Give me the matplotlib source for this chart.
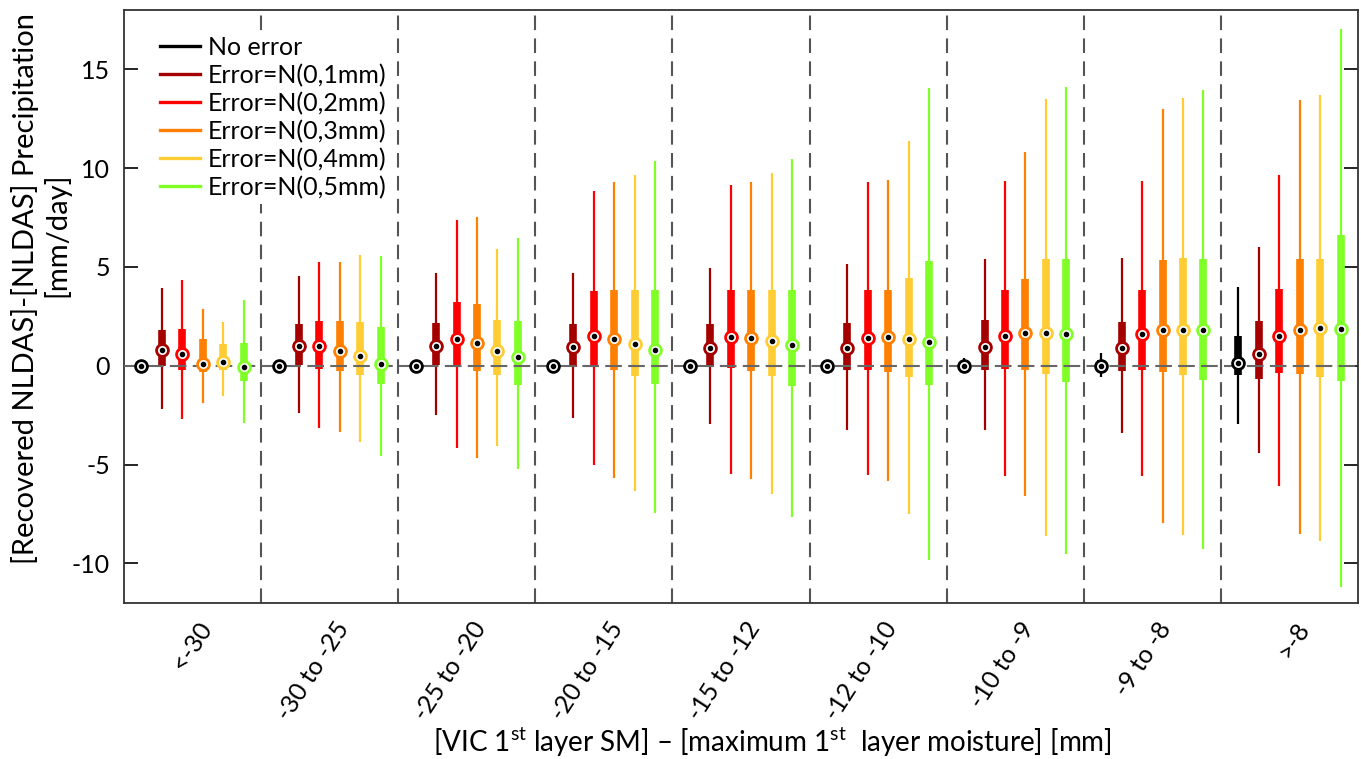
import matplotlib
matplotlib.use("Agg")
from matplotlib import pyplot as plt
from matplotlib.lines import Line2D
import matplotlib.transforms as mtrans

plt.rcParams['font.family'] = ['Lato', 'DejaVu Sans']
plt.rcParams['mathtext.fontset'] = 'custom'
plt.rcParams['mathtext.rm'] = 'Lato'
plt.rcParams['axes.unicode_minus'] = False

bins = ['<-30', '-30 to -25', '-25 to -20', '-20 to -15', '-15 to -12',
        '-12 to -10', '-10 to -9', '-9 to -8', '>-8']

names = ['No error', 'Error=N(0,1mm)', 'Error=N(0,2mm)', 'Error=N(0,3mm)',
         'Error=N(0,4mm)', 'Error=N(0,5mm)']
colors = ['#000000', '#a50000', '#ff0000', '#ff8000', '#ffcc33', '#80ff26']

# (low whisker, q1, median, q3, high whisker) per bin
no_err = [(-0.08, -0.03, 0.0, 0.03, 0.08), (-0.08, -0.03, 0.0, 0.03, 0.08),
          (-0.08, -0.03, 0.0, 0.03, 0.08), (-0.08, -0.03, 0.0, 0.03, 0.08),
          (-0.08, -0.03, 0.0, 0.03, 0.08), (-0.08, -0.03, 0.0, 0.03, 0.08),
          (-0.35, -0.10, 0.0, 0.15, 0.40), (-0.55, -0.15, 0.0, 0.30, 0.67),
          (-2.94, -0.49, 0.13, 1.52, 3.99)]
err1 = [(-2.18, -0.03, 0.79, 1.82, 3.92), (-2.40, 0.05, 0.99, 2.10, 4.54),
        (-2.49, 0.05, 1.02, 2.15, 4.69), (-2.66, -0.05, 0.97, 2.10, 4.72),
        (-2.96, -0.08, 0.92, 2.13, 4.94), (-3.23, -0.22, 0.91, 2.17, 5.16),
        (-3.25, -0.20, 0.95, 2.30, 5.40), (-3.41, -0.25, 0.89, 2.24, 5.45),
        (-4.42, -0.67, 0.61, 2.26, 6.01)]
err2 = [(-2.69, -0.22, 0.62, 1.87, 4.32), (-3.14, -0.17, 1.01, 2.25, 5.24),
        (-4.17, 0.02, 1.36, 3.23, 7.40), (-5.01, 0.03, 1.50, 3.78, 8.82),
        (-5.46, -0.13, 1.46, 3.83, 9.14), (-5.50, -0.22, 1.40, 3.82, 9.29),
        (-5.60, -0.15, 1.50, 3.85, 9.35), (-5.60, -0.22, 1.60, 3.85, 9.35),
        (-6.07, -0.35, 1.50, 3.90, 9.64)]
err3 = [(-1.90, -0.32, 0.08, 1.36, 2.89), (-3.36, -0.25, 0.76, 2.25, 5.24),
        (-4.66, -0.24, 1.14, 3.14, 7.53), (-5.70, -0.22, 1.35, 3.83, 9.28),
        (-5.73, -0.25, 1.41, 3.83, 9.31), (-5.85, -0.29, 1.45, 3.82, 9.38),
        (-6.60, -0.20, 1.65, 4.40, 10.80), (-7.95, -0.29, 1.80, 5.35, 13.00),
        (-8.50, -0.41, 1.82, 5.39, 13.46)]
err4 = [(-1.55, -0.22, 0.17, 1.08, 2.22), (-3.85, -0.45, 0.50, 2.22, 5.61),
        (-4.08, -0.47, 0.77, 2.34, 5.92), (-6.34, -0.50, 1.09, 3.83, 9.67),
        (-6.47, -0.54, 1.24, 3.83, 9.77), (-7.50, -0.57, 1.34, 4.45, 11.38),
        (-8.60, -0.40, 1.65, 5.40, 13.50), (-8.55, -0.45, 1.82, 5.45, 13.55),
        (-8.84, -0.55, 1.92, 5.39, 13.70)]
err5 = [(-2.91, -0.79, -0.05, 1.14, 3.35), (-4.57, -0.91, 0.10, 1.97, 5.55),
        (-5.21, -0.97, 0.47, 2.25, 6.47), (-7.45, -0.92, 0.82, 3.83, 10.34),
        (-7.65, -1.01, 1.04, 3.83, 10.47), (-9.80, -0.99, 1.21, 5.28, 14.07),
        (-9.50, -0.80, 1.60, 5.40, 14.10), (-9.28, -0.73, 1.81, 5.39, 13.94),
        (-11.17, -0.75, 1.84, 6.61, 17.05)]

series = [no_err, err1, err2, err3, err4, err5]
step = 0.149

fig = plt.figure(figsize=(13.61, 7.59), dpi=100)
ax = fig.add_axes([124 / 1361, 1 - 603 / 759, 1234 / 1361, 593 / 759])

for s, (stats, col) in enumerate(zip(series, colors)):
    for g, (lo, q1, med, q3, hi) in enumerate(stats):
        x = g + 1 + (s - 2.5) * step
        ax.vlines(x, lo, hi, color=col, lw=1.6, zorder=2)
        ax.vlines(x, q1, q3, color=col, lw=5.5, zorder=2.5)
        ax.plot(x, med, 'o', ms=8.5, mfc='white', mec=col, mew=2, zorder=4)
        ax.plot(x, med, 'o', ms=3, color='black', zorder=5)

ax.axhline(0, color='#666666', lw=1.5, ls=(0, (8, 3)), zorder=3)
for g in range(1, len(bins)):
    ax.axvline(g + 0.5, color='#555555', lw=1.5, ls=(0, (7, 4)), zorder=1)

ax.set_xlim(0.5, len(bins) + 0.5)
ax.set_ylim(-12, 18)
ax.set_yticks([-10, -5, 0, 5, 10, 15])
ax.tick_params(axis='y', direction='in', length=10, width=1.2, right=True,
               labelsize=18, pad=10)
ax.set_xticks(range(1, len(bins) + 1))
ax.set_xticklabels(bins, rotation=57, ha='right', va='center',
                   rotation_mode='anchor', fontsize=18)
ax.tick_params(axis='x', length=0, pad=15)
offset = mtrans.ScaledTranslation(0.14, 0, fig.dpi_scale_trans)
for lab in ax.get_xticklabels():
    lab.set_transform(lab.get_transform() + offset)
for sp in ax.spines.values():
    sp.set_linewidth(1.3)
    sp.set_color('#333333')

fig.text(772 / 1361, 1 - 742 / 759,
         r'[VIC 1$^{\rm st}$ layer SM] – [maximum 1$^{\rm st}$  layer moisture] [mm]',
         ha='center', va='center', fontsize=20)
fig.text(25 / 1361, 1 - 289 / 759, '[Recovered NLDAS]-[NLDAS] Precipitation',
         rotation=90, ha='center', va='center', fontsize=21)
fig.text(56 / 1361, 1 - 235 / 759, '[mm/day]',
         rotation=90, ha='center', va='center', fontsize=21)

handles = [Line2D([], [], color=c, lw=2.4) for c in colors]
leg = ax.legend(handles, names, loc='upper left',
                bbox_to_anchor=((155 - 124) / 1234, (603 - 31) / 593),
                frameon=True, fancybox=False, fontsize=18, handlelength=1.6,
                handletextpad=0.32, labelspacing=0.19, borderaxespad=0,
                borderpad=0.2)
leg.get_frame().set_facecolor('white')
leg.get_frame().set_edgecolor('none')
leg.get_frame().set_alpha(1)
leg.set_zorder(6)

fig.savefig('out.png', dpi=100)
